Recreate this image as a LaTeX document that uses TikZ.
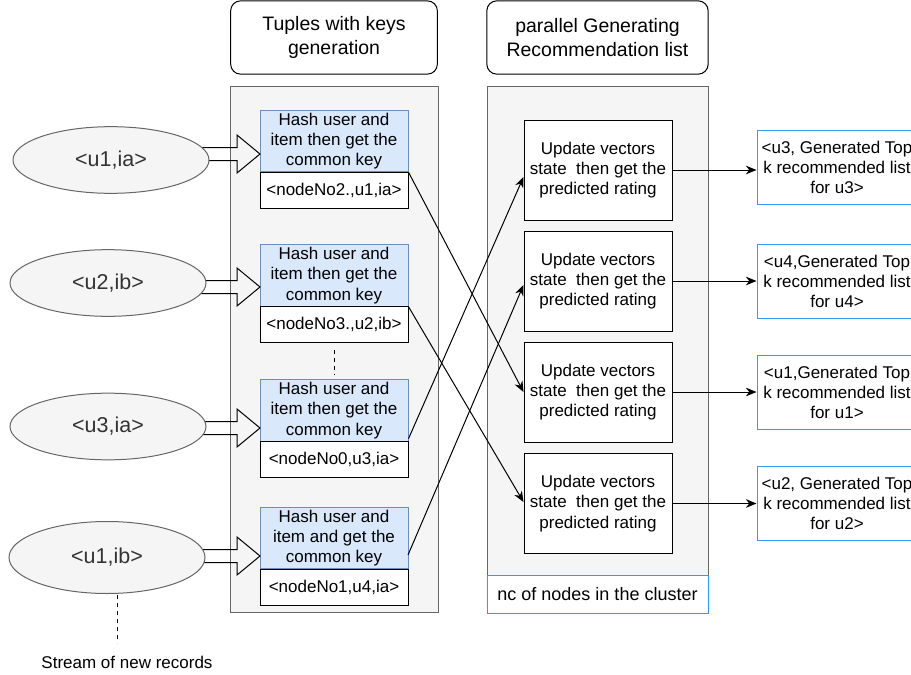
\documentclass[tikz,border=0pt]{standalone}
\usepackage{fontspec}
\setmainfont{Liberation Sans}
\usetikzlibrary{arrows.meta,calc,shapes.geometric}
\definecolor{grayfill}{HTML}{F5F5F5}
\definecolor{graystroke}{HTML}{666666}
\definecolor{bluefill}{HTML}{DAE8FC}
\definecolor{bluestroke}{HTML}{6C8EBF}
\definecolor{brightblue}{HTML}{3399FF}
\definecolor{darktext}{HTML}{333333}
\tikzset{
  px/.style={x=0.75pt,y=-0.75pt},
  base/.style={line width=0.75pt,align=center,inner sep=0pt},
  titlebox/.style={base,draw=black,fill=white,rounded corners=7.5pt,font=\fontsize{14.6}{17.5}\selectfont},
  panel/.style={line width=0.75pt,draw=graystroke,fill=grayfill},
  hashbox/.style={base,draw=bluestroke,fill=bluefill,minimum width=111pt,minimum height=46pt,font=\fontsize{12.75}{15.2}\selectfont},
  keybox/.style={base,draw=black,fill=white,minimum width=111pt,minimum height=27pt,font=\fontsize{12.75}{15.2}\selectfont},
  updbox/.style={base,draw=black,fill=white,minimum width=111pt,minimum height=75pt,font=\fontsize{12.75}{15.2}\selectfont},
  outbox/.style={base,draw=brightblue,fill=white,minimum width=120pt,minimum height=55pt,font=\fontsize{12.75}{15.2}\selectfont},
  rec/.style={base,ellipse,draw=graystroke,fill=grayfill,text=darktext,minimum width=147pt,minimum height=50pt,font=\fontsize{16.1}{19}\selectfont},
  blockarrow/.style={line width=0.75pt,draw=black,line join=miter},
  conn/.style={line width=0.75pt,-{Stealth[length=8pt,width=6.5pt]}},
  dashline/.style={line width=0.75pt,dashed,dash pattern=on 3pt off 3pt},
}
\begin{document}
\begin{tikzpicture}[px]
\useasboundingbox (0,0) rectangle (911,675);
% titles
\node[titlebox,minimum width=155pt,minimum height=55pt] (t1) at (334,37.5) {Tuples with keys\\generation};
\node[titlebox,minimum width=166pt,minimum height=55pt] (t2) at (597.5,37.5) {parallel Generating\\Recommendation list};
% panels
\draw[panel] (230,86) rectangle (438,612);
\node[base,draw=graystroke,fill=grayfill,minimum width=165.75pt,minimum height=366.75pt] (p2) at (597.5,330.5) {};
\node[base,draw=brightblue,fill=white,minimum width=165.75pt,minimum height=28.5pt,font=\fontsize{13.5}{16}\selectfont] (nc) at (597.5,594) {nc of nodes in the cluster};
% hash boxes
\node[hashbox] (h1) at (334,141) {Hash user and\\item then get the\\common key};
\node[keybox] (k1) at (334,190) {<nodeNo2.,u1,ia>};
\node[hashbox] (h2) at (334,275.5) {Hash user and\\item then get the\\common key};
\node[keybox] (k2) at (334,324.5) {<nodeNo3.,u2,ib>};
\node[hashbox] (h3) at (334,410.5) {Hash user and\\item then get the\\common key};
\node[keybox] (k3) at (334,459) {<nodeNo0,u3,ia>};
\node[hashbox] (h4) at (334,538) {Hash user and\\item and get the\\common key};
\node[keybox] (k4) at (334,587.5) {<nodeNo1,u4,ia>};
\coordinate (d1) at (334,350);
\coordinate (d2) at (334,375);
\draw[dashline] (d1) -- (d2);
% update boxes
\node[updbox] (u1) at (598,170) {Update vectors\\state\ \ then get the\\predicted rating};
\node[updbox] (u2) at (598,281) {Update vectors\\state\ \ then get the\\predicted rating};
\node[updbox] (u3) at (598,392) {Update vectors\\state\ \ then get the\\predicted rating};
\node[updbox] (u4) at (598,503.5) {Update vectors\\state\ \ then get the\\predicted rating};
% output boxes
\node[outbox] (o1) at (837,167.5) {<u3, Generated Top\\k recommended list\\for u3>};
\node[outbox] (o2) at (837,281.5) {<u4,Generated Top\\k recommended list\\for u4>};
\node[outbox] (o3) at (837,392.5) {<u1,Generated Top\\k recommended list\\for u1>};
\node[outbox] (o4) at (837,503.5) {<u2, Generated Top\\k recommended list\\for u2>};
% block arrows
\foreach \yy in {154,287,428,556}{
  \draw[blockarrow] (195,\yy-6.5) -- (237,\yy-6.5) -- (237,\yy-19) -- (260,\yy) -- (237,\yy+19) -- (237,\yy+6.5) -- (195,\yy+6.5);
}
% ellipses
\node[rec] (e1) at (111,160) {<u1,ia>};
\node[rec] (e2) at (108,283) {<u2,ib>};
\node[rec] (e3) at (108,426.5) {<u3,ia>};
\node[rec,minimum height=54pt] (e4) at (107,557.5) {<u1,ib>};
% crossing connectors
\draw[conn] (h1.south east) -- (u3.west);
\draw[conn] (h2.south east) -- ($(u4.west)+(0,-1.5)$);
\draw[conn] ($(h3.south east)+(0,-3)$) -- ($(u1.west)+(0,7)$);
\draw[conn] (408,555) -- ($(u2.west)+(0,4)$);
% outputs
\draw[conn] (u1.east) -- (u1.east -| o1.west);
\draw[conn] (u2.east) -- (u2.east -| o2.west);
\draw[conn] (u3.east) -- (u3.east -| o3.west);
\draw[conn] (u4.east) -- (u4.east -| o4.west);
% stream
\coordinate (s1) at (117,595);
\node[base,font=\fontsize{12.75}{15.2}\selectfont] (st) at (127,662) {Stream of new records};
\draw[dashline] (s1) -- (117,643);
\end{tikzpicture}
\end{document}
